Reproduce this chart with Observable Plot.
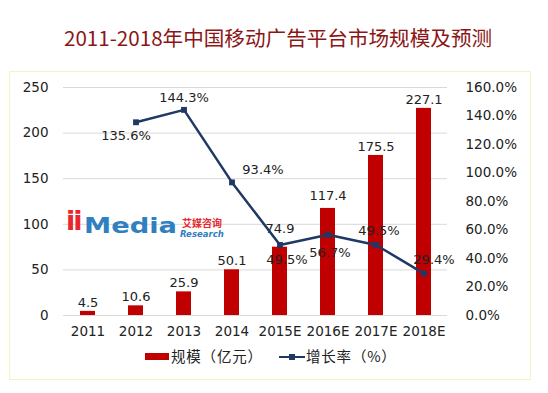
<!DOCTYPE html>
<html><head><meta charset="utf-8">
<script src="https://cdn.jsdelivr.net/npm/d3@7"></script>
<script src="https://cdn.jsdelivr.net/npm/@observablehq/plot@0.6"></script>
<style>
html,body{margin:0;padding:0;background:#fff}
body{width:548px;height:393px;overflow:hidden;position:relative;font-family:"DejaVu Sans",Verdana,sans-serif}
#frame{position:absolute;left:9px;top:71px;width:522px;height:309px;border:1.5px solid #F7F2C2;box-sizing:border-box}
#title{position:absolute;left:64px;top:22px;font-family:"Noto Sans CJK SC",sans-serif;font-size:20.6px;color:#8B1616;line-height:30px;white-space:nowrap}
#chart{position:absolute;left:0;top:72px}
.abs{position:absolute;white-space:nowrap}
.leg{font-family:"Noto Sans CJK SC",sans-serif;font-size:14.5px;color:#222;line-height:18px;letter-spacing:0.8px}
</style></head>
<body>
<div id="frame"></div>
<div id="title">2011-2018年中国移动广告平台市场规模及预测</div>
<div id="chart"></div>
<div class="abs" style="left:66px;top:202px;font-family:'DejaVu Sans';font-weight:bold;font-size:27px;color:#E8262D;line-height:38px;letter-spacing:-2px">ii</div>
<div class="abs" style="left:84px;top:211px;font-family:'DejaVu Sans';font-weight:bold;font-size:21px;color:#2F7FC1;line-height:30px;transform:scaleX(1.3);transform-origin:left center">Media</div>
<div class="abs" style="left:182px;top:217px;font-family:'Noto Sans CJK SC';font-weight:bold;font-size:10px;color:#E8262D;line-height:11px">艾媒咨询</div>
<div class="abs" style="left:180px;top:229px;font-family:'DejaVu Sans';font-style:italic;font-weight:bold;font-size:8.5px;color:#2F7FC1;line-height:10px">Research</div>
<div class="abs" style="left:145px;top:353px;width:24px;height:7px;background:#C00000"></div>
<div class="abs leg" style="left:171px;top:347px">规模（亿元）</div>
<div class="abs" style="left:279px;top:355.5px;width:26px;height:2.5px;background:#1F3864"></div>
<div class="abs" style="left:289px;top:353.5px;width:6px;height:6px;background:#1F3864"></div>
<div class="abs leg" style="left:306px;top:347px">增长率（%）</div>
<script>
const years = ["2011","2012","2013","2014","2015E","2016E","2017E","2018E"];
const marketSize = [4.5, 10.6, 25.9, 50.1, 74.9, 117.4, 175.5, 227.1];
const growthRate = [null, 135.6, 144.3, 93.4, 49.5, 56.7, 49.5, 29.4];
const leftTicks = [0, 50, 100, 150, 200, 250];
const rightTicks = [0, 20, 40, 60, 80, 100, 120, 140, 160];

const k = 250 / 160; // right axis (0–160%) mapped onto left axis (0–250)
const rows = years.map((y, i) => ({year: y, v: marketSize[i], g: growthRate[i]}));
const lineRows = rows.filter(d => d.g != null);

// label placement (pixels), code-side only
const pctPlace = {"2012": [-10, 14], "2013": [0, -12], "2014": [31, -13], "2015E": [7, 15],
                  "2016E": [2, 18], "2017E": [3, -14], "2018E": [10, -14]};
const barDy = {"2015E": -18, "2016E": -13};

const font = "'DejaVu Sans', Verdana, sans-serif";
const chart = Plot.plot({
  width: 548, height: 270,
  marginLeft: 63, marginRight: 101, marginTop: 15, marginBottom: 27,
  style: {fontFamily: font, fontSize: "13px", color: "#222", background: "transparent", overflow: "visible"},
  x: {domain: years, paddingInner: 0.69, paddingOuter: 0.345, label: null},
  y: {domain: [0, 250], label: null},
  marks: [
    Plot.ruleY(leftTicks, {stroke: "#D9D9D9", strokeWidth: 1}),
    Plot.axisY({ticks: leftTicks, tickSize: 0, tickPadding: 15, label: null, fontSize: 13.5}),
    Plot.axisY({anchor: "right", ticks: rightTicks.map(t => t * k), tickFormat: d => (d / k).toFixed(1) + "%",
                tickSize: 0, tickPadding: 18, label: null, fontSize: 13.5}),
    Plot.axisX({tickSize: 0, tickPadding: 11, label: null, fontSize: 13.5}),
    Plot.barY(rows, {x: "year", y: "v", fill: "#C00000"}),
    ...rows.map(r => Plot.text([r], {x: "year", y: "v", text: d => d.v.toFixed(1), dy: barDy[r.year] ?? -9, fill: "#222"})),
    Plot.line(lineRows, {x: "year", y: d => d.g * k, stroke: "#1F3864", strokeWidth: 2.5}),
    Plot.dot(lineRows, {x: "year", y: d => d.g * k, symbol: "square", r: 3.3, fill: "#1F3864"}),
    ...lineRows.map(r => Plot.text([r], {x: "year", y: d => d.g * k, text: d => d.g.toFixed(1) + "%",
                                        dx: pctPlace[r.year][0], dy: pctPlace[r.year][1], fill: "#222"}))
  ]
});
document.getElementById("chart").append(chart);
</script>
</body></html>
